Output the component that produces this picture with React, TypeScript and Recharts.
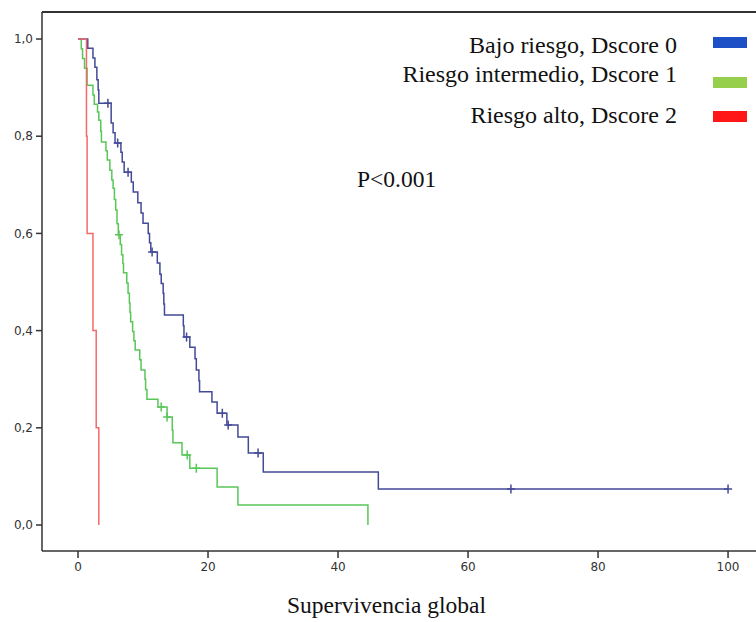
import {
  ComposedChart,
  Line,
  Scatter,
  XAxis,
  YAxis,
  ReferenceLine,
} from "recharts";

// Kaplan-Meier steps: time of each drop and survival after it
const blueTimes = [0, 1.5, 2.3, 2.6, 2.9, 3.1, 3.2, 5.1, 5.4, 5.7, 6.6, 6.8, 7.1, 8.2, 8.5, 9.2, 9.7, 10.0, 10.8, 11.0, 11.2, 12.2, 12.6, 12.8, 13.1, 13.2, 13.3, 16.2, 16.3, 17.2, 18.0, 18.2, 18.6, 18.7, 20.6, 21.4, 22.9, 24.6, 26.2, 28.5, 46.2, 100];
const blueSurv = [1, 0.981, 0.961, 0.942, 0.916, 0.895, 0.868, 0.827, 0.807, 0.786, 0.767, 0.747, 0.726, 0.706, 0.685, 0.663, 0.642, 0.621, 0.6, 0.581, 0.562, 0.539, 0.516, 0.497, 0.477, 0.455, 0.432, 0.41, 0.387, 0.366, 0.342, 0.319, 0.297, 0.274, 0.253, 0.23, 0.206, 0.181, 0.148, 0.109, 0.074, 0.074];

const greenTimes = [0, 0.5, 0.7, 1.0, 1.4, 2.3, 2.5, 3.0, 3.2, 3.5, 3.6, 4.3, 4.5, 4.9, 5.2, 5.4, 5.6, 5.8, 6.0, 6.2, 6.5, 6.7, 6.9, 7.0, 7.5, 7.7, 7.9, 8.0, 8.1, 8.4, 8.6, 8.8, 9.5, 9.7, 10.3, 10.4, 10.6, 12.3, 13.7, 14.5, 14.6, 16.0, 17.2, 21.4, 24.6, 44.6];
const greenSurv = [1, 0.98, 0.96, 0.94, 0.905, 0.885, 0.866, 0.85, 0.833, 0.81, 0.788, 0.77, 0.751, 0.73, 0.71, 0.693, 0.67, 0.648, 0.62, 0.597, 0.577, 0.556, 0.538, 0.519, 0.498, 0.477, 0.457, 0.438, 0.418, 0.398, 0.379, 0.36, 0.34, 0.319, 0.3, 0.279, 0.259, 0.243, 0.222, 0.195, 0.169, 0.144, 0.117, 0.078, 0.041, 0];

const redTimes = [0, 1.3, 1.4, 2.3, 2.8, 3.2];
const redSurv = [1, 0.8, 0.6, 0.4, 0.2, 0];

// censored cases (+ marks)
const blueCensorTimes = [4.6, 6.1, 7.7, 11.4, 16.7, 22.2, 23.1, 27.7, 66.6, 100];
const blueCensorSurv = [0.868, 0.786, 0.726, 0.562, 0.387, 0.23, 0.206, 0.148, 0.074, 0.074];
const greenCensorTimes = [6.3, 12.8, 13.7, 16.8, 18.2];
const greenCensorSurv = [0.597, 0.243, 0.222, 0.144, 0.117];

const xTicks = [0, 20, 40, 60, 80, 100];
const yTicks = [0, 0.2, 0.4, 0.6, 0.8, 1.0];

const legendLabels = [
  "Bajo riesgo, Dscore 0",
  "Riesgo intermedio, Dscore 1",
  "Riesgo alto, Dscore 2",
];
const legendColors = ["#1d4fc6", "#95cf4c", "#ff1616"];

const X_DOMAIN: [number, number] = [-5.54, 104.3];
const Y_DOMAIN: [number, number] = [-0.0535, 1.0556];

const toRows = (ts: number[], vs: number[]) => ts.map((t, i) => ({ t, v: vs[i] }));

const blueData = toRows(blueTimes, blueSurv);
const greenData = toRows(greenTimes, greenSurv);
const redData = toRows(redTimes, redSurv);
const blueCensors = toRows(blueCensorTimes, blueCensorSurv);
const greenCensors = toRows(greenCensorTimes, greenCensorSurv);

const AXIS = "#333";
const tickFont = { fontSize: 12, fill: "#333", fontFamily: "DejaVu Sans" };
const serif = "Liberation Serif";

function plusShape(color: string) {
  return (props: any) => {
    const { cx, cy } = props;
    return (
      <path
        d={`M${cx - 4},${cy}H${cx + 4}M${cx},${cy - 4.5}V${cy + 4.5}`}
        stroke={color}
        strokeWidth={1.5}
        fill="none"
      />
    );
  };
}

export default function App() {
  return (
    <div style={{ position: "absolute", left: 0, top: 0, width: 756, height: 622, background: "#fff" }}>
      <ComposedChart width={756} height={622} margin={{ top: 12, right: 0, bottom: 0, left: 0 }}>
        <XAxis
          type="number"
          dataKey="t"
          domain={X_DOMAIN}
          ticks={xTicks}
          allowDataOverflow
          height={71}
          tickSize={7}
          tickMargin={4}
          tick={tickFont}
          axisLine={{ stroke: AXIS, strokeWidth: 1.5 }}
          tickLine={{ stroke: AXIS, strokeWidth: 1.5 }}
        />
        <YAxis
          type="number"
          domain={Y_DOMAIN}
          ticks={yTicks}
          allowDataOverflow
          width={42}
          tickSize={6}
          tickMargin={3}
          tick={tickFont}
          tickFormatter={(v: number) => v.toFixed(1).replace(".", ",")}
          axisLine={{ stroke: AXIS, strokeWidth: 1.5 }}
          tickLine={{ stroke: AXIS, strokeWidth: 1.5 }}
        />
        <ReferenceLine y={Y_DOMAIN[1]} stroke={AXIS} strokeWidth={2} />
        <Line
          data={greenData}
          dataKey="v"
          type="stepAfter"
          stroke="#58c758"
          strokeWidth={1.5}
          dot={false}
          isAnimationActive={false}
        />
        <Line
          data={blueData}
          dataKey="v"
          type="stepAfter"
          stroke="#434a98"
          strokeWidth={1.5}
          dot={false}
          isAnimationActive={false}
        />
        <Line
          data={redData}
          dataKey="v"
          type="stepAfter"
          stroke="#f46a6a"
          strokeWidth={1.5}
          dot={false}
          isAnimationActive={false}
        />
        <Scatter data={greenCensors} dataKey="v" shape={plusShape("#58c758")} isAnimationActive={false} />
        <Scatter data={blueCensors} dataKey="v" shape={plusShape("#434a98")} isAnimationActive={false} />
      </ComposedChart>

      {/* legend */}
      {legendLabels.map((label, i) => (
        <div key={label}>
          <div
            style={{
              position: "absolute",
              right: 756 - 677,
              top: [33, 62, 103][i],
              fontFamily: serif,
              fontSize: 24,
              lineHeight: "24px",
              color: "#111",
              whiteSpace: "nowrap",
            }}
          >
            {label}
          </div>
          <div
            style={{
              position: "absolute",
              left: 713,
              top: [37, 77, 111][i],
              width: 34,
              height: 11,
              background: legendColors[i],
            }}
          />
        </div>
      ))}

      <div
        style={{
          position: "absolute",
          left: 357,
          top: 168,
          fontFamily: serif,
          fontSize: 23.5,
          lineHeight: "23.5px",
          color: "#111",
        }}
      >
        P&lt;0.001
      </div>

      <div
        style={{
          position: "absolute",
          left: 0,
          width: 773,
          top: 594,
          textAlign: "center",
          fontFamily: serif,
          fontSize: 23.5,
          lineHeight: "23.5px",
          color: "#111",
        }}
      >
        Supervivencia global
      </div>
    </div>
  );
}
